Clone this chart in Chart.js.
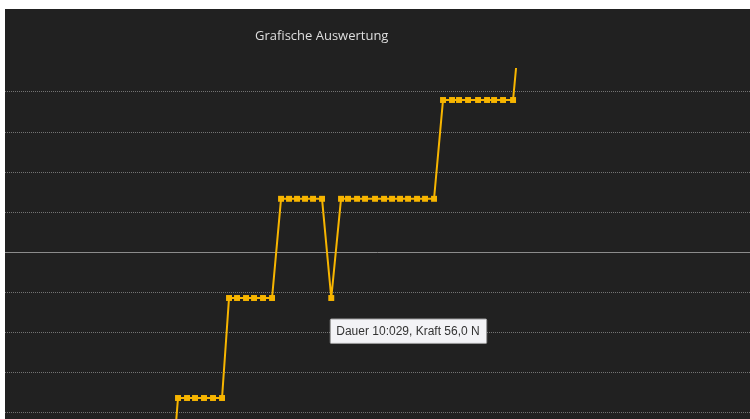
<!DOCTYPE html>
<html>
<head>
<meta charset="utf-8">
<script src="https://cdn.jsdelivr.net/npm/chart.js@4.4.0/dist/chart.umd.min.js"></script>
<style>
  html, body { margin: 0; padding: 0; background: #fff; }
  #wrap { position: absolute; left: 5px; top: 9px; width: 745px; height: 410px; background: #212121; }
  #title { position: absolute; left: 250px; top: 17px; color: #dedede; font: 13px "Open Sans", sans-serif; z-index: 2; }
</style>
</head>
<body>
<div id="wrap">
  <div id="title">Grafische Auswertung</div>
  <canvas id="kraft" width="745" height="410"></canvas>
</div>
<script>
'use strict';
// Dauer in Sekunden, Kraft in N
var times = [5.072, 5.318, 5.595, 5.841, 6.117, 6.394, 6.671,
  6.886, 7.132, 7.409, 7.655, 7.931, 8.208,
  8.485, 8.730, 8.976, 9.222, 9.468, 9.745,
  10.029,
  10.329, 10.544, 10.821, 11.067, 11.374, 11.651, 11.897, 12.143, 12.389, 12.665, 12.911, 13.188,
  13.464, 13.741, 13.956, 14.233, 14.541, 14.817, 15.033, 15.309, 15.617,
  15.709];
var forces = [6.0, 31.0, 31.0, 31.0, 31.0, 31.0, 31.0,
  56.0, 56.0, 56.0, 56.0, 56.0, 56.0,
  80.8, 80.8, 80.8, 80.8, 80.8, 80.8,
  56.0,
  80.8, 80.8, 80.8, 80.8, 80.8, 80.8, 80.8, 80.8, 80.8, 80.8, 80.8, 80.8,
  105.5, 105.5, 105.5, 105.5, 105.5, 105.5, 105.5, 105.5, 105.5,
  113.5];
var gridValues = [27.5, 37.5, 47.5, 57.5, 77.5, 87.5, 97.5, 107.5];
var markLine = 67.5;
var shownIndex = 19;

var points = [];
for (var i in times) {
  points.push({x: times[i], y: forces[i]});
}

function formatDauer(t) {
  var sec = Math.floor(t);
  var ms = Math.round((t - sec) * 1000);
  return sec + ':' + String(ms).padStart(3, '0');
}

// solid reference line across the plot
var markLinePlugin = {
  id: 'markLine',
  beforeDatasetsDraw: function(chart) {
    var ctx = chart.ctx;
    var y = Math.round(chart.scales.y.getPixelForValue(markLine)) + 0.5;
    ctx.save();
    ctx.strokeStyle = '#8c8c8c';
    ctx.lineWidth = 1;
    ctx.beginPath();
    ctx.moveTo(chart.chartArea.left, y);
    ctx.lineTo(chart.chartArea.right, y);
    ctx.stroke();
    ctx.restore();
  }
};

var ctx = document.getElementById('kraft');
var myChart = new Chart(ctx, {
  type: 'line',
  data: {
    datasets: [{
      label: 'Kraft',
      data: points,
      borderColor: '#f7b500',
      backgroundColor: '#f7b500',
      borderWidth: 2,
      tension: 0,
      pointStyle: 'rect',
      pointRadius: function(c) { return c.dataIndex === times.length - 1 ? 0 : 4.2; },
      pointBorderWidth: 0
    }]
  },
  options: {
    responsive: false,
    animation: false,
    events: [],
    layout: { padding: 0, autoPadding: false },
    scales: {
      x: { type: 'linear', min: 0, max: 22.9, display: false },
      y: {
        type: 'linear',
        min: 25.75,
        max: 128.25,
        afterBuildTicks: function(scale) {
          scale.ticks = gridValues.map(function(v) { return {value: v}; });
        },
        ticks: { display: false },
        border: { display: false, dash: [1, 1] },
        grid: { color: '#747474', lineWidth: 1, drawTicks: false }
      }
    },
    plugins: {
      legend: { display: false },
      title: { display: false },
      tooltip: {
        enabled: true,
        xAlign: 'left',
        yAlign: 'top',
        caretSize: 0,
        caretPadding: 21,
        cornerRadius: 1,
        displayColors: false,
        backgroundColor: '#f3f3f6',
        borderColor: '#9a9a9a',
        borderWidth: 1,
        bodyColor: '#333333',
        bodyFont: { family: 'Liberation Sans', size: 12 },
        padding: { left: 6, right: 7, top: 5, bottom: 5 },
        callbacks: {
          title: function() { return ''; },
          label: function(c) {
            return 'Dauer ' + formatDauer(c.parsed.x) + ', Kraft ' + c.parsed.y.toFixed(1).replace('.', ',') + ' N';
          }
        }
      }
    }
  },
  plugins: [markLinePlugin]
});

var pt = myChart.getDatasetMeta(0).data[shownIndex];
myChart.tooltip.setActiveElements([{datasetIndex: 0, index: shownIndex}], {x: pt.x, y: pt.y});
myChart.update();
</script>
</body>
</html>
